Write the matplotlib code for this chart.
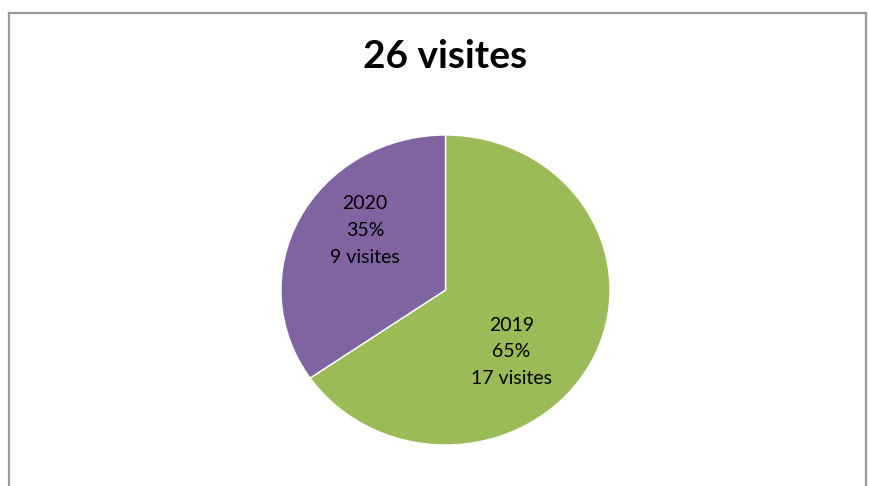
import matplotlib.pyplot as plt
from matplotlib.lines import Line2D

years = ["2019", "2020"]
visits = [17, 9]
colors = ["#9BBB59", "#8064A2"]
title = "26 visites"

plt.rcParams["font.family"] = ["Lato", "DejaVu Sans"]

fig = plt.figure(figsize=(8.69, 4.86), dpi=100)

# chart frame (bottom edge falls outside the picture)
frame = dict(color="#9a9a9a", lw=1.6, transform=fig.transFigure)
fig.add_artist(Line2D([9 / 869, 9 / 869], [-0.05, 473 / 486], **frame))
fig.add_artist(Line2D([9 / 869, 866 / 869], [473 / 486, 473 / 486], **frame))
fig.add_artist(Line2D([866 / 869, 866 / 869], [-0.05, 473 / 486], **frame))

fig.text(445 / 869, 1 - 57 / 486, title, ha="center", va="center",
         fontsize=28, fontweight="bold")

# pie is drawn slightly wider than tall, as in the original
ax = fig.add_axes([0.3044, 0.0525, 0.4165, 0.7016])
ax.pie(visits, colors=colors, startangle=90, counterclock=False,
       wedgeprops=dict(edgecolor="white", linewidth=1))
ax.set_xlim(-1.1, 1.1)
ax.set_ylim(-1.1, 1.1)
ax.set_aspect("auto")
ax.axis("off")

total = sum(visits)
label_pos = [(0.40, -0.40), (-0.49, 0.385)]
for (x, y), yr, v in zip(label_pos, years, visits):
    pct = round(100 * v / total)
    ax.text(x, y, f"{yr}\n{pct}%\n{v} visites", ha="center", va="center",
            fontsize=14, linespacing=1.7)

fig.savefig("out.png", dpi=100)
